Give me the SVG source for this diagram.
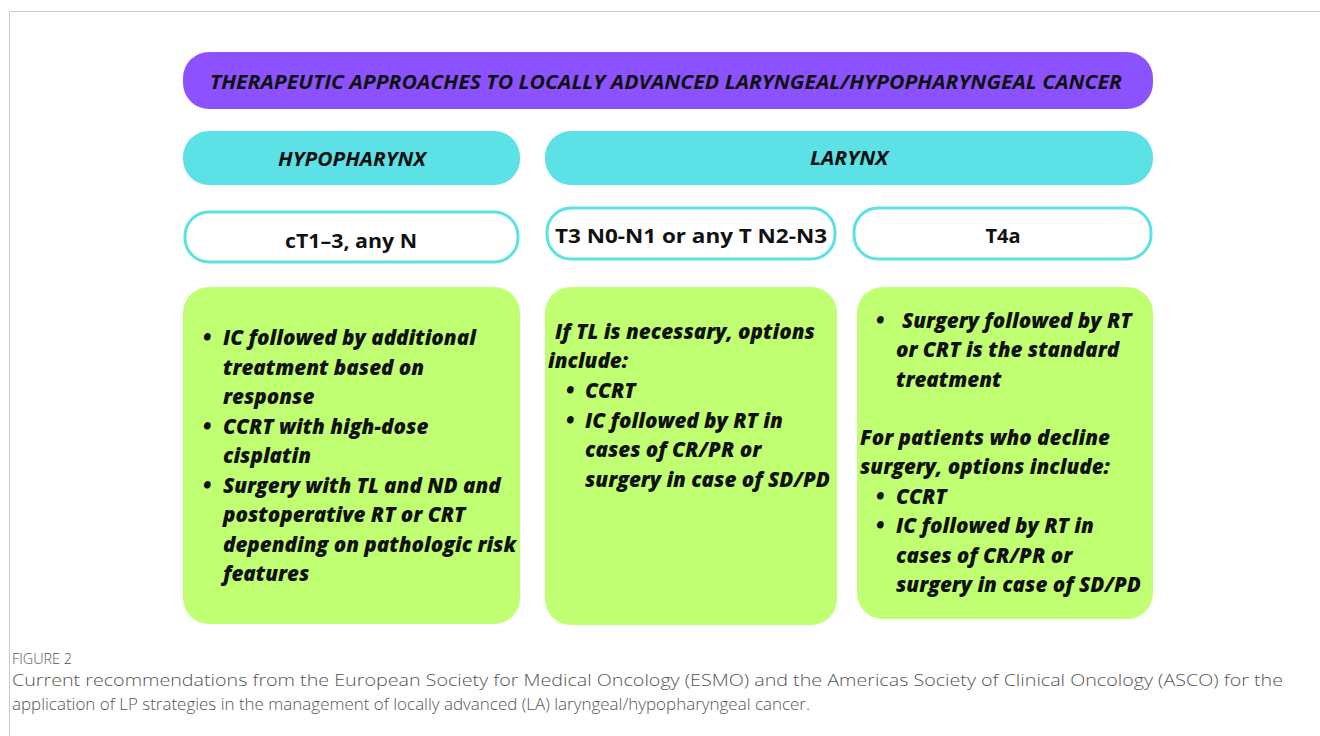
<svg xmlns="http://www.w3.org/2000/svg" width="1320" height="736" viewBox="0 0 1320 736">
<style>
.hdr{fill:#8c52ff}
.cat{fill:#5ce1e6}
.stage{fill:#ffffff;stroke:#5ce1e6;stroke-width:3}
.body{fill:#c1ff72}
.t{font-family:"Open Sans","DejaVu Sans",sans-serif;font-weight:bold;fill:#111}
.i{font-style:italic}
.b{font-family:"Open Sans","DejaVu Sans",sans-serif;font-weight:800;font-style:italic;font-size:20.6px;fill:#111}
.cap{font-family:"Open Sans","Liberation Sans",sans-serif;font-weight:300;fill:#555}
</style>
<rect x="0" y="0" width="1320" height="736" fill="#ffffff"/>
<path d="M9.5,736 V11.5 H1320" fill="none" stroke="#cccccc" stroke-width="1"/>
<g id="title">
<rect class="hdr" x="183" y="52" width="970" height="57" rx="26"/>
<text class="t i" x="666" y="89" font-size="20" font-weight="800" text-anchor="middle" textLength="912" lengthAdjust="spacingAndGlyphs">THERAPEUTIC APPROACHES TO LOCALLY ADVANCED LARYNGEAL/HYPOPHARYNGEAL CANCER</text>
</g>
<g id="hypopharynx">
<rect class="cat" x="183" y="131" width="337" height="54" rx="26"/>
<text class="t i" x="352" y="166" font-size="19" text-anchor="middle" textLength="148" lengthAdjust="spacingAndGlyphs">HYPOPHARYNX</text>
</g>
<g id="larynx">
<rect class="cat" x="545" y="131" width="608" height="54" rx="26"/>
<text class="t i" x="849" y="165" font-size="19" text-anchor="middle" textLength="78" lengthAdjust="spacingAndGlyphs">LARYNX</text>
</g>
<g id="stage-hypo">
<rect class="stage" x="185" y="212" width="333" height="50" rx="24"/>
<text class="t" x="351" y="248" font-size="20" text-anchor="middle" textLength="132" lengthAdjust="spacingAndGlyphs">cT1–3, any N</text>
</g>
<g id="stage-t3">
<rect class="stage" x="547" y="208" width="288" height="51" rx="24"/>
<text class="t" x="691" y="243" font-size="20" text-anchor="middle" textLength="272" lengthAdjust="spacingAndGlyphs">T3 N0-N1 or any T N2-N3</text>
</g>
<g id="stage-t4a">
<rect class="stage" x="854" y="208" width="297" height="51" rx="24"/>
<text class="t" x="1003" y="243" font-size="20" text-anchor="middle">T4a</text>
</g>
<g id="tx-hypo">
<rect class="body" x="183" y="287" width="337" height="337" rx="26"/>
<text class="b">
<tspan x="203" y="345">•</tspan><tspan x="223" y="345">IC followed by additional</tspan>
<tspan x="223" y="375">treatment based on</tspan>
<tspan x="223" y="404">response</tspan>
<tspan x="203" y="434">•</tspan><tspan x="223" y="434">CCRT with high-dose</tspan>
<tspan x="223" y="463">cisplatin</tspan>
<tspan x="203" y="493">•</tspan><tspan x="223" y="493">Surgery with TL and ND and</tspan>
<tspan x="223" y="522">postoperative RT or CRT</tspan>
<tspan x="223" y="552">depending on pathologic risk</tspan>
<tspan x="223" y="581">features</tspan>
</text>
</g>
<g id="tx-t3">
<rect class="body" x="545" y="287" width="292" height="338" rx="26"/>
<text class="b">
<tspan x="555" y="339">If TL is necessary, options</tspan>
<tspan x="548" y="368">include:</tspan>
<tspan x="566" y="398">•</tspan><tspan x="585" y="398">CCRT</tspan>
<tspan x="566" y="428">•</tspan><tspan x="585" y="428">IC followed by RT in</tspan>
<tspan x="585" y="457">cases of CR/PR or</tspan>
<tspan x="585" y="487">surgery in case of SD/PD</tspan>
</text>
</g>
<g id="tx-t4a">
<rect class="body" x="857" y="287" width="296" height="332" rx="26"/>
<text class="b">
<tspan x="876" y="328">•</tspan><tspan x="902" y="328">Surgery followed by RT</tspan>
<tspan x="896" y="357">or CRT is the standard</tspan>
<tspan x="896" y="387">treatment</tspan>
<tspan x="860" y="445">For patients who decline</tspan>
<tspan x="860" y="474">surgery, options include:</tspan>
<tspan x="876" y="504">•</tspan><tspan x="896" y="504">CCRT</tspan>
<tspan x="876" y="533">•</tspan><tspan x="896" y="533">IC followed by RT in</tspan>
<tspan x="896" y="563">cases of CR/PR or</tspan>
<tspan x="896" y="592">surgery in case of SD/PD</tspan>
</text>
</g>
<g id="connectors"></g>
<g id="caption">
<text class="cap" x="12" y="664" font-size="14" textLength="60" lengthAdjust="spacingAndGlyphs">FIGURE 2</text>
<text class="cap" x="12" y="686" font-size="16.5" textLength="1271" lengthAdjust="spacingAndGlyphs">Current recommendations from the European Society for Medical Oncology (ESMO) and the Americas Society of Clinical Oncology (ASCO) for the</text>
<text class="cap" x="12" y="710" font-size="16.5" textLength="798" lengthAdjust="spacingAndGlyphs">application of LP strategies in the management of locally advanced (LA) laryngeal/hypopharyngeal cancer.</text>
</g>
</svg>
